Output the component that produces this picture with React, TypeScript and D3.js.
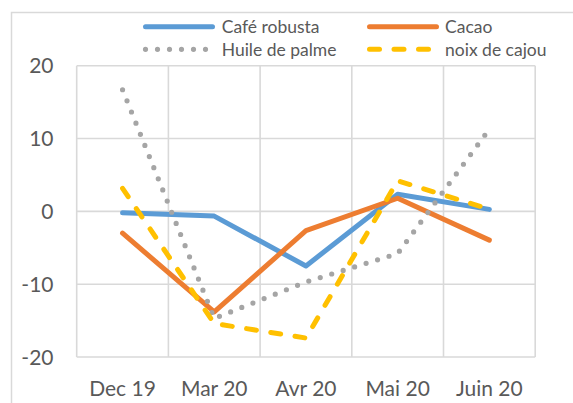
import React from "react";
import * as d3 from "d3";

const categories = ["Dec 19", "Mar 20", "Avr 20", "Mai 20", "Juin 20"];
const cafeRobusta = [-0.2, -0.65, -7.5, 2.35, 0.27];
const cacao = [-3.0, -13.8, -2.65, 1.8, -3.95];
const huilePalme = [16.7, -14.7, -9.7, -5.8, 11.3];
const noixCajou = [3.15, -15.4, -17.4, 4.2, 0.3];
const yTicks = [-20, -10, 0, 10, 20];

const seriesNames = ["Café robusta", "Cacao", "Huile de palme", "noix de cajou"];
const seriesValues = [cafeRobusta, cacao, huilePalme, noixCajou];

const styles = [
  { color: "#5B9BD5", dash: undefined as string | undefined, width: 5 },
  { color: "#ED7D31", dash: undefined as string | undefined, width: 5 },
  { color: "#A5A5A5", dash: "0 12", width: 5.2 },
  { color: "#FFC000", dash: "10 14.5", width: 5 },
];

const W = 573;
const H = 403;
const plot = { left: 76.7, right: 535.2, top: 65.7, bottom: 357 };
const FONT = "Lato, 'Open Sans', sans-serif";
const TEXT = "#595959";
const GRID = "#D9D9D9";

export default function App() {
  const x = d3
    .scaleBand<string>()
    .domain(categories)
    .range([plot.left, plot.right])
    .paddingInner(0)
    .paddingOuter(0);
  const y = d3.scaleLinear().domain([-20, 20]).range([plot.bottom, plot.top]);
  const line = d3
    .line<number>()
    .x((_, i) => (x(categories[i]) as number) + x.bandwidth() / 2)
    .y((v) => y(v));

  const vGrid = categories.map((c) => x(c) as number).concat([plot.right]);

  const legendRows = [{ y: 26.7 }, { y: 49.3 }];
  const legendCols = [
    { x1: 145.5, x2: 212.5, tx: 221.7 },
    { x1: 369.5, x2: 436.5, tx: 445 },
  ];

  return (
    <svg
      width={W}
      height={H}
      style={{ position: "fixed", left: 0, top: 0, background: "#fff" }}
    >
      <rect x={0} y={0} width={W} height={H} fill="#fff" />
      <rect
        x={11.5}
        y={12.5}
        width={W + 20}
        height={H + 20}
        fill="none"
        stroke={GRID}
        strokeWidth={1.5}
      />
      {yTicks.map((t) => (
        <line
          key={"h" + t}
          x1={plot.left}
          x2={plot.right}
          y1={y(t)}
          y2={y(t)}
          stroke={GRID}
          strokeWidth={1.6}
        />
      ))}
      {vGrid.map((gx, i) => (
        <line
          key={"v" + i}
          x1={gx}
          x2={gx}
          y1={plot.top}
          y2={plot.bottom}
          stroke={GRID}
          strokeWidth={1.6}
        />
      ))}
      {yTicks.map((t) => (
        <text
          key={"yl" + t}
          x={53.5}
          y={y(t)}
          dy="0.36em"
          textAnchor="end"
          fontFamily={FONT}
          fontSize={21}
          fill={TEXT}
        >
          {t}
        </text>
      ))}
      {categories.map((c) => (
        <text
          key={"xl" + c}
          x={(x(c) as number) + x.bandwidth() / 2}
          y={396}
          textAnchor="middle"
          fontFamily={FONT}
          fontSize={21}
          fill={TEXT}
        >
          {c}
        </text>
      ))}
      {seriesValues.map((vals, i) => (
        <path
          key={"s" + i}
          d={line(vals) as string}
          fill="none"
          stroke={styles[i].color}
          strokeWidth={styles[i].width}
          strokeDasharray={styles[i].dash}
          strokeLinecap="round"
          strokeLinejoin="round"
        />
      ))}
      {seriesNames.map((name, i) => {
        const row = legendRows[Math.floor(i / 2)];
        const col = legendCols[i % 2];
        return (
          <g key={"lg" + i}>
            <line
              x1={col.x1}
              x2={col.x2}
              y1={row.y}
              y2={row.y}
              stroke={styles[i].color}
              strokeWidth={styles[i].width}
              strokeDasharray={styles[i].dash}
              strokeLinecap="round"
            />
            <text
              x={col.tx}
              y={row.y}
              dy="0.36em"
              fontFamily={FONT}
              fontSize={17.5}
              fill={TEXT}
            >
              {name}
            </text>
          </g>
        );
      })}
    </svg>
  );
}
